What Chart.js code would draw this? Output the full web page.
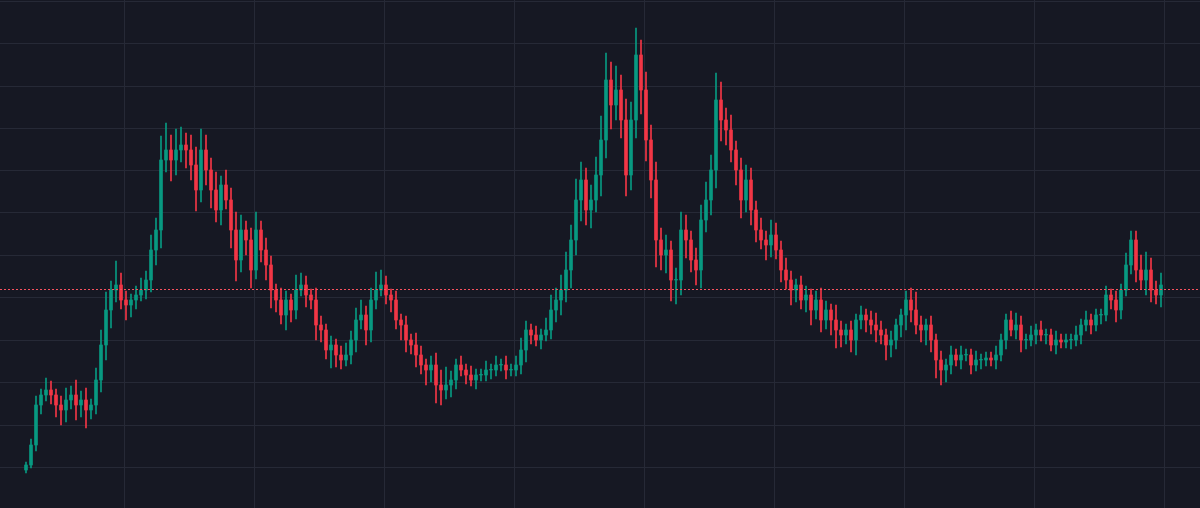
<!DOCTYPE html>
<html><head><meta charset="utf-8">
<script src="https://cdn.jsdelivr.net/npm/chart.js@4/dist/chart.umd.min.js"></script>
<style>html,body{margin:0;padding:0;background:#161823;}#w{width:1200px;height:508px;}</style>
</head><body><div id="w"><canvas id="c"></canvas></div>
<script>
const firstOpen = 30;
const closes = [35,55,95,105,110,105,95,90,100,105,95,100,90,95,120,155,190,210,215,200,195,200,205,210,220,250,270,340,350,340,350,355,350,335,310,350,330,310,290,315,300,270,240,270,260,230,270,250,235,210,200,185,200,190,210,215,205,200,175,170,150,155,145,140,145,160,180,185,170,200,210,215,205,200,180,175,160,155,145,135,130,135,115,110,115,120,135,130,125,120,125,125,130,130,135,135,130,130,135,150,170,165,160,165,170,190,200,210,230,260,300,320,290,300,325,360,420,395,410,380,325,380,445,410,360,320,260,245,250,220,220,270,260,240,230,280,300,330,400,380,370,350,330,300,320,290,270,260,255,265,250,230,220,210,215,200,205,190,200,180,190,180,170,165,170,160,180,185,180,175,170,165,155,160,175,185,200,190,175,170,175,160,140,130,135,145,140,145,145,135,140,140,142,140,145,160,180,170,175,160,160,165,170,165,165,155,160,158,160,160,165,175,180,175,185,185,205,200,190,210,235,260,230,220,230,210,205,215];
const upWick = [1,2,3,2,4,3,2,3,4,3,5,3,4,2,4,5,6,3,8,4,3,2,3,4,3,5,4,8,9,5,7,6,4,5,6,7,5,4,6,3,5,4,6,5,3,4,6,3,4,3,2,4,3,2,5,4,3,2,4,3,2,3,2,3,4,3,4,5,3,4,6,5,3,2,3,2,3,2,4,3,2,3,4,5,6,3,2,3,2,3,2,2,3,2,3,2,3,2,3,4,3,2,3,2,4,5,4,5,6,5,7,6,4,5,6,8,9,6,8,5,7,6,9,5,6,5,6,4,5,3,4,6,5,3,4,5,6,5,9,6,4,5,3,4,5,4,3,4,3,5,4,3,4,3,2,3,3,2,3,4,3,2,5,3,2,3,2,3,2,3,4,3,2,3,2,2,3,4,6,3,2,3,2,3,2,3,2,3,2,2,3,2,2,2,3,2,2,3,4,3,2,3,2,3,2,2,3,2,2,2,3,2,3,2,2,2,3,2,3,2,4,3,3,5,6,4,3,4,8,6,4,3,2,3,2];
const dnWick = [1,1,2,3,2,3,4,5,4,3,5,4,6,3,3,4,5,6,4,3,5,4,3,2,3,4,5,6,4,7,5,4,6,5,7,4,5,6,4,5,3,6,7,4,5,6,3,4,5,6,4,3,5,4,3,2,4,3,5,4,3,6,4,3,2,3,4,3,5,4,3,2,3,4,3,5,4,3,4,3,5,4,6,5,3,4,3,2,3,2,3,2,2,3,2,2,3,2,2,3,4,3,2,3,2,3,4,5,4,6,5,7,5,6,4,7,6,8,5,6,7,5,6,8,7,6,9,5,6,7,8,5,6,4,5,6,4,5,6,7,5,4,5,6,4,5,4,3,5,4,3,4,3,5,4,3,4,5,3,4,3,5,6,4,3,4,5,3,4,3,4,3,5,4,3,4,5,4,3,4,5,4,6,5,4,3,2,3,2,3,2,3,2,2,3,2,3,2,3,4,3,2,3,2,3,2,3,2,2,3,2,3,2,3,2,3,2,3,4,3,2,3,4,3,5,4,3,4,3,4,3,2,3,4,3];
const gridPrices = [33,75,118,160,203,245,288,330,372,414,457,499];
const gridIndex = [19.6,45.6,71.6,97.6,123.6,149.6,175.6,201.6,227.6];
const lastPrice = [211];
const wickScale = 3;

const opens = closes.map((c,i)=> i===0 ? firstOpen : closes[i-1]);
const UP = '#089981', DN = '#f23645';
const bodies = closes.map((c,i)=>({x:i, y:[opens[i], c===opens[i]?c+0.6:c]}));
const wicks = closes.map((c,i)=>({x:i, y:[Math.min(opens[i],c)-(dnWick[i]||2)*wickScale, Math.max(opens[i],c)+(upWick[i]||2)*wickScale]}));
const cols = closes.map((c,i)=> c>=opens[i] ? UP : DN);

const overlay = {
  id:'overlay',
  beforeDatasetsDraw(ch){
    const {ctx, chartArea:a, scales:{x,y}} = ch;
    ctx.save(); ctx.strokeStyle='#262936'; ctx.lineWidth=1;
    gridPrices.forEach(p=>{const py=Math.round(y.getPixelForValue(p))+0.5;ctx.beginPath();ctx.moveTo(a.left,py);ctx.lineTo(a.right,py);ctx.stroke();});
    gridIndex.forEach(v=>{const px=Math.round(x.getPixelForValue(v))+0.5;ctx.beginPath();ctx.moveTo(px,a.top);ctx.lineTo(px,a.bottom);ctx.stroke();});
    ctx.restore();
  },
  afterDatasetsDraw(ch){
    const {ctx, chartArea:a, scales:{y}} = ch;
    ctx.save(); ctx.strokeStyle='#f7525f'; ctx.lineWidth=1; ctx.setLineDash([2,2]);
    const py=Math.round(y.getPixelForValue(lastPrice[0]))+0.5;
    ctx.beginPath();ctx.moveTo(a.left,py);ctx.lineTo(a.right,py);ctx.stroke();ctx.restore();
  }
};

new Chart(document.getElementById('c'),{
  type:'bar',
  data:{datasets:[
    {data:wicks, backgroundColor:cols, barThickness:1, grouped:false, order:2},
    {data:bodies, backgroundColor:cols, barThickness:3, grouped:false, order:1}
  ]},
  options:{
    responsive:true, maintainAspectRatio:false, animation:false,
    layout:{padding:0},
    plugins:{legend:{display:false}, tooltip:{enabled:false}},
    scales:{
      x:{type:'linear', min:-5.2, max:234.8, offset:false, bounds:'ticks', display:false, ticks:{display:false}},
      y:{type:'linear', min:-8, max:500, display:false}
    }
  },
  plugins:[overlay]
});
</script></body></html>
